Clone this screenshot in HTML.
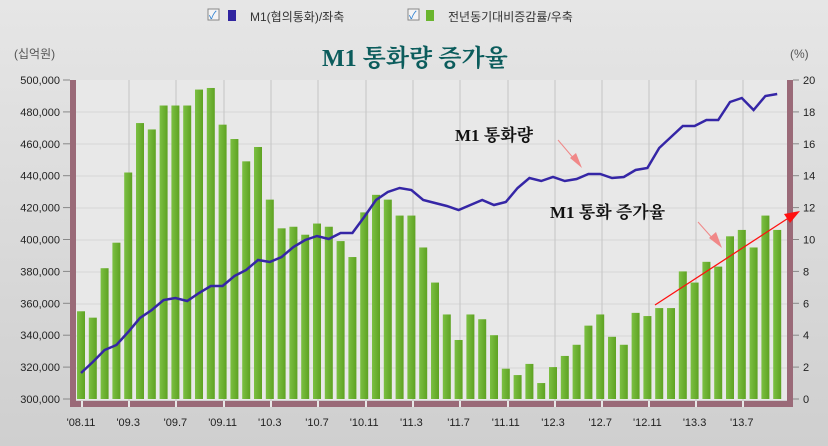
<!DOCTYPE html>
<html><head><meta charset="utf-8"><style>
body{margin:0;width:828px;height:446px;overflow:hidden;background:#d9d9d9}
svg{display:block}
text{font-family:"Liberation Sans","Noto Sans CJK KR",sans-serif}
text.sf{font-family:"Liberation Serif","Noto Serif CJK SC",serif}
</style></head><body>
<svg width="828" height="446" viewBox="0 0 828 446" xmlns="http://www.w3.org/2000/svg">
<defs>
<linearGradient id="bg" x1="0" y1="0" x2="0" y2="1"><stop offset="0" stop-color="#e6e6e6"/><stop offset="1" stop-color="#cfcfcf"/></linearGradient>
<linearGradient id="bar" x1="0" y1="0" x2="1" y2="0"><stop offset="0" stop-color="#7cc043"/><stop offset="1" stop-color="#5ea222"/></linearGradient>
</defs>
<rect width="828" height="446" fill="url(#bg)"/>
<rect x="76" y="80" width="711" height="320" fill="#e8e8e8"/>
<g stroke="#d6d6d6" stroke-width="1">
<line x1="76" y1="112" x2="787" y2="112"/><line x1="76" y1="144" x2="787" y2="144"/><line x1="76" y1="176" x2="787" y2="176"/><line x1="76" y1="208" x2="787" y2="208"/><line x1="76" y1="240" x2="787" y2="240"/><line x1="76" y1="272" x2="787" y2="272"/><line x1="76" y1="304" x2="787" y2="304"/><line x1="76" y1="336" x2="787" y2="336"/><line x1="76" y1="368" x2="787" y2="368"/>
</g>
<g stroke="#cacaca" stroke-width="1.2" id="vg"></g>
<rect x="208" y="9" width="11" height="11" fill="#f4f4f4" stroke="#888"/><text x="209" y="19" font-size="11" fill="#2a7fd0">✓</text>
<rect x="228" y="10" width="8" height="11" fill="#3024a0"/>
<text x="250" y="21" font-size="12" fill="#333">M1(협의통화)/좌축</text>
<rect x="408" y="9" width="11" height="11" fill="#f4f4f4" stroke="#888"/><text x="409" y="19" font-size="11" fill="#2a7fd0">✓</text>
<rect x="426" y="10" width="8" height="11" fill="#6ab52e"/>
<text x="448" y="21" font-size="12" fill="#333">전년동기대비증감률/우축</text>
<text class="sf" x="322" y="66" font-size="24" font-weight="bold" fill="#0b5c5c">M1 통화량 증가율</text>
<text x="14" y="58" font-size="12" fill="#555">(십억원)</text>
<text x="790" y="58" font-size="12" fill="#555">(%)</text>
<g font-size="11" fill="#222" text-anchor="end" id="ly"></g>
<g font-size="11" fill="#222" id="ry"></g>
<g id="bars"></g>
<g id="xl" font-size="11" fill="#222" text-anchor="middle"></g>
<rect x="70" y="80" width="6" height="322" fill="#9a6a78"/>
<rect x="787" y="80" width="6" height="322" fill="#9a6a78"/>
<rect x="70" y="401" width="723" height="6" fill="#9a6a78"/>
<g id="gaps" stroke="#e8e8e8" stroke-width="2"></g>
<polyline id="ln" fill="none" stroke="#3526a6" stroke-width="2.5"/>
<text class="sf" x="455" y="141" font-size="17" font-weight="bold" fill="#111">M1 통화량</text>
<line x1="558" y1="140" x2="575" y2="160" stroke="#f08888" stroke-width="1"/><polygon points="570,158 582,168 576,153" fill="#f08888"/>
<text class="sf" x="550" y="218" font-size="17" font-weight="bold" fill="#111">M1 통화 증가율</text>
<line x1="698" y1="222" x2="714" y2="240" stroke="#f08888" stroke-width="1"/><polygon points="709,238 722,248 716,232" fill="#f08888"/>
<line x1="655" y1="305" x2="790" y2="217" stroke="#ff1010" stroke-width="1.3"/><polygon points="800,211 784,214 790,223" fill="#ff1010"/>
</svg>
<script>
var ns="http://www.w3.org/2000/svg";
function el(p,t,a,txt){var e=document.createElementNS(ns,t);for(var k in a)e.setAttribute(k,a[k]);if(txt!=null)e.textContent=txt;document.getElementById(p).appendChild(e);}
var vx=[129,176,224,271,318,366,413,460,508,555,602,649,696,743];
vx.forEach(function(x){el('vg','line',{x1:x,y1:80,x2:x,y2:400});el('gaps','line',{x1:x,y1:401,x2:x,y2:407});});
el('gaps','line',{x1:82,y1:401,x2:82,y2:407});
var lv=["500,000","480,000","460,000","440,000","420,000","400,000","380,000","360,000","340,000","320,000","300,000"];
for(var i=0;i<11;i++){var y=80+i*31.9;el('ly','text',{x:60,y:y+4},lv[i]);el('ry','text',{x:803,y:y+4},String(20-2*i));
el('ly','line',{x1:63,y1:y,x2:70,y2:y,stroke:'#888'});el('ly','line',{x1:793,y1:y,x2:799,y2:y,stroke:'#888'});}
var b=[5.5,5.1,8.2,9.8,14.2,17.3,16.9,18.4,18.4,18.4,19.4,19.5,17.2,16.3,14.9,15.8,12.5,10.7,10.8,10.3,11,10.8,9.9,8.9,11.7,12.8,12.5,11.5,11.5,9.5,7.3,5.3,3.7,5.3,5.0,4.0,1.9,1.5,2.2,1.0,2.0,2.7,3.4,4.6,5.3,3.9,3.4,5.4,5.2,5.7,5.7,8.0,7.3,8.6,8.3,10.2,10.6,9.5,11.5,10.6];
b.forEach(function(v,i){var x=81+i*11.8,h=v*15.95;el('bars','rect',{x:x-4,y:399-h,width:8,height:h,fill:'url(#bar)'});});
var ly=[373,362,350,345,332,318,310,300,298,301,293,286,286,276,270,260,262,257,247,240,236,239,233,233,217,200,192,188,190,200,203,206,210,205,200,205,202,188,178,181,177,181,179,174,174,178,177,170,168,148,137,126,126,120,120,102,98,110,96,94];
document.getElementById('ln').setAttribute('points',ly.map(function(y,i){return (81+i*11.8).toFixed(1)+','+y;}).join(' '));
var xl=["'08.11","'09.3","'09.7","'09.11","'10.3","'10.7","'10.11","'11.3","'11.7","'11.11","'12.3","'12.7","'12.11","'13.3","'13.7"];
xl.forEach(function(t,i){el('xl','text',{x:81+i*4*11.8,y:426},t);});
</script>
</body></html>
